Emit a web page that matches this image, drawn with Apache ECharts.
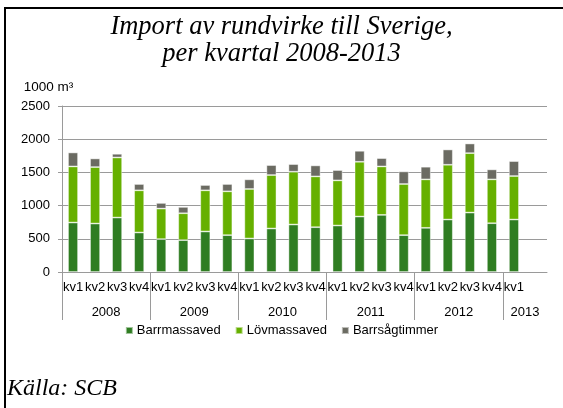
<!DOCTYPE html>
<html>
<head>
<meta charset="utf-8">
<script src="https://cdn.jsdelivr.net/npm/echarts@6/dist/echarts.min.js"></script>
<style>
html,body{margin:0;padding:0;background:#fff;}
#chart{width:563px;height:408px;}
</style>
</head>
<body>
<div id="chart"></div>
<script>
const quarters = ['kv1','kv2','kv3','kv4','kv1','kv2','kv3','kv4','kv1','kv2','kv3','kv4',
                  'kv1','kv2','kv3','kv4','kv1','kv2','kv3','kv4','kv1',''];
const years = ['2008','2009','2010','2011','2012','2013'];
const yearSpan = [4,4,4,4,4,2];
const barrmassaved = [745,730,820,595,495,480,610,555,505,655,715,675,700,835,860,555,665,790,895,735,790];
const lovmassaved  = [845,850,905,635,460,405,620,660,745,805,795,765,680,825,730,770,730,825,895,660,655];
const barrsagtimmer= [210,130,55,95,85,95,80,110,145,150,115,165,155,165,125,190,190,230,145,150,225];
const yTicks = [0,500,1000,1500,2000,2500];

const seriesNames = ['Barrmassaved','Lövmassaved','Barrsågtimmer'];
const colors = ['#2f7d22','#66b000','#6b6b62'];

const bounds = [];
const centers = [];
let acc = 0;
yearSpan.forEach(s => { bounds.push(acc); centers.push(acc + s/2); acc += s; });
const totalSlots = quarters.length;

const chart = echarts.init(document.getElementById('chart'));
const font = 'Arial, "Liberation Sans", sans-serif';
const serif = '"Times New Roman", "Liberation Serif", serif';
const gridColor = '#9a9a9a';

const mk = (name, data, i) => ({
  name, type: 'bar', stack: 'total', data,
  xAxisIndex: 0, yAxisIndex: 0,
  barWidth: 10,
  itemStyle: { color: colors[i], borderColor: 'rgba(255,255,255,0.55)', borderWidth: 0.8 }
});

chart.setOption({
  animation: false,
  backgroundColor: '#fff',
  title: [
    { text: 'Import av rundvirke till Sverige,\nper kvartal 2008-2013', left: 'center', top: 13.5, padding: 0,
      textStyle: { fontFamily: serif, fontStyle: 'italic', fontWeight: 'normal', fontSize: 26.5, lineHeight: 27, color: '#000' } },
    { text: 'Källa: SCB', left: 7, top: 376, padding: 0,
      textStyle: { fontFamily: serif, fontStyle: 'italic', fontWeight: 'normal', fontSize: 24, lineHeight: 26, color: '#000' } }
  ],
  legend: {
    data: seriesNames, top: 324, left: 'center', padding: 0, icon: 'rect', itemWidth: 7, itemHeight: 7, itemGap: 14,
    textStyle: { fontFamily: font, fontSize: 13, color: '#000', padding: [0,0,0,-1] }
  },
  grid: { left: 62, right: 16, top: 106, bottom: 136 },
  xAxis: [
    { type: 'category', data: quarters, boundaryGap: true,
      axisLine: { lineStyle: { color: gridColor, width: 1 } },
      axisTick: { show: false },
      axisLabel: { interval: 0, margin: 9, fontFamily: font, fontSize: 13, color: '#000' } },
    { type: 'value', min: 0, max: totalSlots, position: 'bottom',
      axisLine: { show: false }, splitLine: { show: false },
      axisTick: { show: true, customValues: bounds, length: 48, lineStyle: { color: gridColor, width: 1 } },
      axisLabel: { customValues: centers, margin: 34, fontFamily: font, fontSize: 13, color: '#000',
        formatter: v => years[centers.indexOf(v)] } }
  ],
  yAxis: {
    type: 'value', min: yTicks[0], max: yTicks[yTicks.length-1], interval: 500,
    name: '1000 m³', nameLocation: 'end', nameGap: 12,
    nameTextStyle: { fontFamily: font, fontSize: 13.5, color: '#000', align: 'center', padding: [0, 27, 0, 0] },
    axisLine: { show: true, lineStyle: { color: gridColor } },
    axisTick: { show: true, length: 4, lineStyle: { color: gridColor } },
    splitLine: { lineStyle: { color: gridColor, width: 1 } },
    axisLabel: { margin: 12, fontFamily: font, fontSize: 13, color: '#000', formatter: v => String(v) }
  },
  graphic: [
    { type: 'line', shape: { x1: 5, y1: 7.5, x2: 5, y2: 408 }, style: { stroke: '#000', lineWidth: 2 } },
    { type: 'line', shape: { x1: 4, y1: 8, x2: 563, y2: 8 }, style: { stroke: '#000', lineWidth: 2 } }
  ],
  series: [
    mk(seriesNames[0], barrmassaved, 0),
    mk(seriesNames[1], lovmassaved, 1),
    mk(seriesNames[2], barrsagtimmer, 2)
  ]
});
</script>
</body>
</html>
